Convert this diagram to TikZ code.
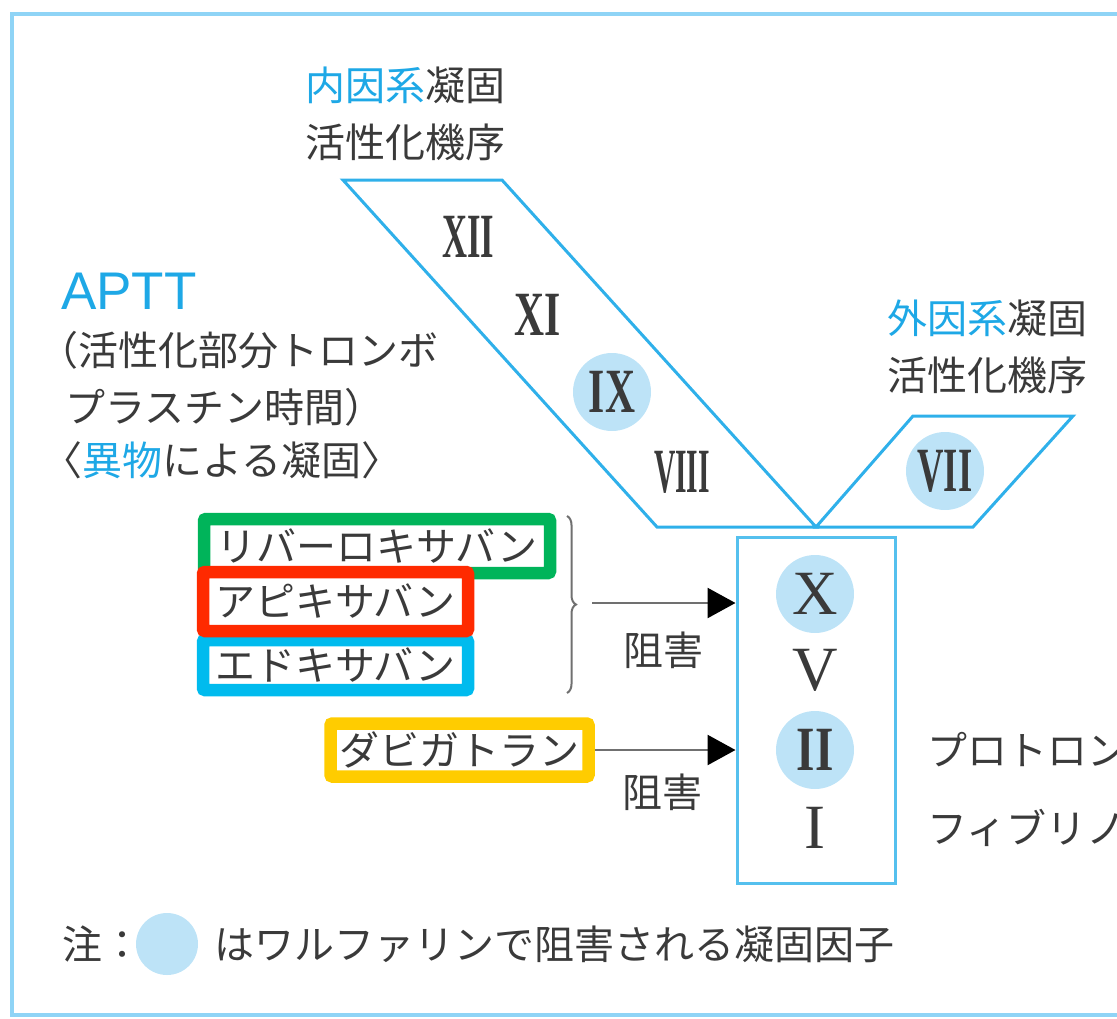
\documentclass[tikz,border=0pt]{standalone}
\usepackage{fontspec}
\setmainfont{Liberation Serif}
\newfontfamily\jpf{Noto Sans CJK JP}
\newfontfamily\lsf{Liberation Sans}
\usetikzlibrary{arrows.meta,decorations.pathreplacing}
\definecolor{txt}{HTML}{3A3A3A}
\definecolor{lblue}{HTML}{2FB0EA}
\definecolor{bxblue}{HTML}{55C0EE}
\definecolor{frm}{HTML}{8FD4F6}
\definecolor{cfill}{HTML}{BDE3F7}
\definecolor{kgreen}{HTML}{00B45A}
\definecolor{kred}{HTML}{FF2A00}
\definecolor{kblue}{HTML}{00BBEE}
\definecolor{kyellow}{HTML}{FFCC00}
\definecolor{hl}{HTML}{1EA8E6}
\definecolor{arr}{HTML}{707070}
\newcommand{\rsq}[2]{\scalebox{#1}[1]{\bfseries #2}}
\begin{document}
\begin{tikzpicture}[x=1pt,y=-1pt,
  jp/.style={font=\jpf\fontsize{40}{48}\selectfont, text=txt, inner sep=0pt},
  rn/.style={font=\rmfamily\fontsize{63}{70}\selectfont, text=txt, inner sep=0pt},
  wcirc/.style={rn, circle, fill=cfill, minimum size=78pt},
  drug/.style={jp, draw, line width=12.5pt, rounded corners=2pt, fill=white},
  para/.style={draw=lblue, line width=3pt, line join=miter},
  inh/.style={draw=arr, line width=2.5pt, -{Triangle[length=28pt,width=30pt,color=black]}},
  frame/.style={draw=frm, line width=3.5pt}]
\useasboundingbox (0,0) rectangle (1117,1018);
\clip (0,0) rectangle (1117,1018);
\draw[frame] (12,14) rectangle (1140,1015);

% intrinsic / extrinsic parallelograms
\coordinate (p1a) at (343,180);
\coordinate (p1b) at (502,180);
\coordinate (vtx) at (816,527);
\coordinate (p1d) at (657,527);
\coordinate (p2b) at (913,416);
\coordinate (p2c) at (1073,416);
\coordinate (p2d) at (973,527);
\draw[para] (p1a) -- (p1b) -- (vtx) -- (p1d) -- cycle;
\draw[para] (vtx) -- (p2b) -- (p2c) -- (p2d) -- cycle;

% headings
\node[jp, anchor=west] (in1) at (305,85) {{\color{hl}内因系}凝固};
\node[jp, anchor=west] (in2) at (305,142) {活性化機序};
\node[jp, anchor=west] (ex1) at (887,318) {{\color{hl}外因系}凝固};
\node[jp, anchor=west] (ex2) at (887,375) {活性化機序};
\node[anchor=west, font=\lsf\fontsize{53}{60}\selectfont, text=hl, inner sep=0pt] (aptt) at (61,291) {APTT};
\node[jp, anchor=west] (ap1) at (38,350) {（活性化部分トロンボ};
\node[jp, anchor=west] (ap2) at (65,407) {プラスチン時間）};
\node[jp, anchor=west] (ap3) at (42,460) {〈{\color{hl}異物}による凝固〉};

% factors in parallelograms
\node[rn] (f12) at (468,237) {\rsq{0.55}{XII}};
\node[rn] (f11) at (538,315) {\rsq{0.66}{XI}};
\node[wcirc] (f9) at (612,392) {\rsq{0.66}{IX}};
\node[rn] (f8) at (682,472) {\rsq{0.47}{VIII}};
\node[wcirc] (f7) at (945,471) {\rsq{0.58}{VII}};

% common pathway box
\node[draw=bxblue, line width=3pt, minimum width=158pt, minimum height=346pt, inner sep=0pt] (cbox) at (816,710) {};
\node[wcirc] (f10) at (815,594) {X};
\node[rn] (f5) at (815,670) {V};
\node[wcirc] (f2) at (815,750) {\rsq{0.75}{II}};
\node[rn] (f1) at (815,828) {I};

\node[jp, anchor=west] (pt) at (927,750) {プロトロンビン};
\node[jp, anchor=west] (fb) at (927,828) {フィブリノゲン};

% drugs
\node[drug, draw=kgreen, minimum width=346pt, minimum height=54pt] (riv) at (377,546) {リバーロキサバン};
\node[drug, draw=kblue, minimum width=265pt, minimum height=50pt] (edo) at (335.5,665) {エドキサバン};
\node[drug, draw=kred, minimum width=265pt, minimum height=59pt] (api) at (335.5,601.5) {アピキサバン};
\node[drug, draw=kyellow, minimum width=258pt, minimum height=53pt] (dab) at (459.5,750) {ダビガトラン};

% brace and arrows
\coordinate (brt) at (567,516);
\coordinate (brb) at (567,693);
\draw[decorate, decoration={brace, amplitude=9pt}, draw=arr, line width=2pt] (brt) -- (brb);
\coordinate (a1s) at (592,603);
\draw[inh] (a1s) -- (a1s -| cbox.west);
\node[jp] (inh1) at (663,650) {阻害};
\draw[inh] (dab.east) -- (dab.east -| cbox.west);
\node[jp] (inh2) at (662,792) {阻害};

% note
\node[jp, anchor=west] (nt) at (62,944) {注：};
\node[circle, fill=cfill, minimum size=62pt, inner sep=0pt] (ntc) at (167,944) {};
\node[jp, anchor=west] (nt2) at (214,944) {はワルファリンで阻害される凝固因子};
\end{tikzpicture}
\end{document}
